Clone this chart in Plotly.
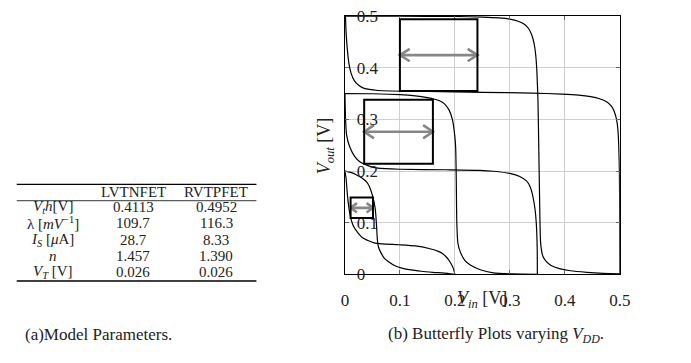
import plotly.graph_objects as go

W, H = 691, 363
FONT = "Liberation Serif"

# ---------------- data ----------------
vdd_levels = [0.5, 0.35, 0.2]

vin_05 = [0, 0.1, 0.2, 0.25, 0.28, 0.30, 0.315, 0.325, 0.334, 0.340, 0.344, 0.347, 0.349,
          0.351, 0.3525, 0.354, 0.356, 0.36, 0.366, 0.375, 0.39, 0.41, 0.44, 0.47, 0.5]
vout_05 = [0.5, 0.4998, 0.4992, 0.498, 0.4965, 0.494, 0.49, 0.485, 0.476, 0.463, 0.447, 0.425, 0.395,
           0.34, 0.25, 0.15, 0.06, 0.035, 0.025, 0.017, 0.011, 0.007, 0.004, 0.002, 0.001]

vin_035 = [0, 0.05, 0.1, 0.128, 0.15, 0.163, 0.174, 0.181, 0.1895, 0.1954, 0.1996, 0.2014, 0.2025,
           0.2035, 0.2055, 0.21, 0.218, 0.228, 0.246, 0.27, 0.305, 0.35]
vout_035 = [0.35, 0.3497, 0.348, 0.3455, 0.342, 0.339, 0.335, 0.33, 0.318, 0.30, 0.27, 0.245, 0.183,
            0.1, 0.06, 0.043, 0.027, 0.018, 0.009, 0.003, 0.001, 0]

vin_02 = [0, 0.012, 0.0205, 0.029, 0.035, 0.04, 0.044, 0.05, 0.055, 0.0573, 0.059, 0.061, 0.065,
          0.071, 0.08, 0.092, 0.1035, 0.12, 0.139, 0.16, 0.1865, 0.2]
vout_02 = [0.2, 0.197, 0.193, 0.188, 0.183, 0.178, 0.171, 0.153, 0.128, 0.098, 0.067, 0.053, 0.043,
           0.032, 0.024, 0.016, 0.012, 0.0085, 0.006, 0.004, 0.002, 0]

# Noise-margin squares (one per VDD)
sq_x0 = [0.100, 0.035, 0.0103]
sq_x1 = [0.241, 0.160, 0.051]
sq_y0 = [0.355, 0.214, 0.109]
sq_y1 = [0.494, 0.338, 0.1486]

# Axes ticks
tick_vals = [0, 0.1, 0.2, 0.3, 0.4, 0.5]
tick_text = ["0", "0.1", "0.2", "0.3", "0.4", "0.5"]

# Table
table_cols = ["LVTNFET", "RVTPFET"]
table_rows = ["<i>V<sub>t</sub>h</i>[V]", "λ [<i>mV</i><sup>−1</sup>]",
              "<i>I<sub>S</sub></i> [<i>μ</i>A]", "<i>n</i>", "<i>V<sub>T</sub></i> [V]"]
lvt_vals = ["0.4113", "109.7", "28.7", "1.457", "0.026"]
rvt_vals = ["0.4952", "116.3", "8.33", "1.390", "0.026"]

# ---------------- figure ----------------
fig = go.Figure()

for vin, vout in [(vin_05, vout_05), (vin_035, vout_035), (vin_02, vout_02)]:
    for xs, ys in [(vin, vout), (vout, vin)]:
        fig.add_trace(go.Scatter(x=xs, y=ys, mode="lines",
                                 line=dict(color="black", width=1.2, shape="spline", smoothing=0.6),
                                 hoverinfo="skip"))

# plot area in window pixels
PX_L, PX_R, PX_T, PX_B = 348.5, 629.5, 7.5, 280.0
dx_per_px = 0.5 / (PX_R - PX_L)
dy_per_px = 0.5 / (PX_B - PX_T)


def px(x):
    return x / W


def py(y):
    return 1 - y / H


for x0, x1, y0, y1 in zip(sq_x0, sq_x1, sq_y0, sq_y1):
    fig.add_shape(type="rect", xref="x", yref="y", x0=x0, x1=x1, y0=y0, y1=y1,
                  line=dict(color="black", width=2), layer="above")

head_sizes = [(10, 6.5), (10, 7), (6.5, 5)]
for (x0, x1, y0, y1), (hl, hw) in zip(zip(sq_x0, sq_x1, sq_y0, sq_y1), head_sizes):
    ym = (y0 + y1) / 2
    hx = hl * dx_per_px
    hy = hw * dy_per_px
    xs = [x0 + hx, x0, x0 + hx, None, x0, x1, None, x1 - hx, x1, x1 - hx]
    ys = [ym + hy, ym, ym - hy, None, ym, ym, None, ym + hy, ym, ym - hy]
    fig.add_trace(go.Scatter(x=xs, y=ys, mode="lines",
                             line=dict(color="rgb(135,135,135)", width=2.6),
                             hoverinfo="skip"))

axis_common = dict(range=[0, 0.5], tickvals=tick_vals, ticktext=tick_text,
                   showgrid=True, gridcolor="#cfcfcf", gridwidth=1,
                   showline=True, linecolor="black", linewidth=1.3, mirror="ticks",
                   ticks="inside", ticklen=4, tickcolor="#666666", tickwidth=1,
                   zeroline=False, fixedrange=True,
                   tickfont=dict(family=FONT, size=17, color="#222"))

fig.update_layout(
    width=W, height=H, margin=dict(l=0, r=0, t=0, b=0),
    paper_bgcolor="white", plot_bgcolor="white", showlegend=False,
    xaxis=dict(domain=[px(PX_L), px(PX_R)], ticklabelstandoff=10, **axis_common),
    yaxis=dict(domain=[py(PX_B), py(PX_T)], ticklabelposition="inside",
               ticklabeloverflow="allow", ticklabelstandoff=8, **axis_common),
)


def note(x, y, text, size, xanchor="center", angle=0):
    return dict(x=px(x), y=py(y), xref="paper", yref="paper", showarrow=False,
                xanchor=xanchor, yanchor="middle", text=text, textangle=angle,
                font=dict(family=FONT, size=size, color="#222"))


ann = [note(489, 307, "<i>V<sub>in</sub></i> [V]", 18),
       note(329, 144, "<i>V<sub>out</sub></i> [V]", 18, angle=-90)]

col_x = [132, 217]
for cx, name in zip(col_x, table_cols):
    ann.append(note(cx, 193, name, 15))
row_y = [209.3, 226.3, 243.3, 260.3, 277.3]
for ry, lab, a, b in zip(row_y, table_rows, lvt_vals, rvt_vals):
    ann.append(note(50, ry, lab, 15))
    ann.append(note(col_x[0], ry, a, 15))
    ann.append(note(col_x[1], ry, b, 15))

ann.append(note(19, 344, "(a)Model Parameters.", 17, xanchor="left"))
ann.append(note(390, 344, "(b) Butterfly Plots varying <i>V<sub>DD</sub></i>.", 17, xanchor="left"))
fig.update_layout(annotations=ann)

for yy, wdt in [(185, 1.3), (202.3, 0.8), (287, 1.3)]:
    fig.add_shape(type="line", xref="paper", yref="paper", x0=px(13), x1=px(258), y0=py(yy), y1=py(yy),
                  line=dict(color="black", width=wdt))

fig.write_html("out.html", config={"displayModeBar": False},
               post_script="document.body.style.margin='0px';")
